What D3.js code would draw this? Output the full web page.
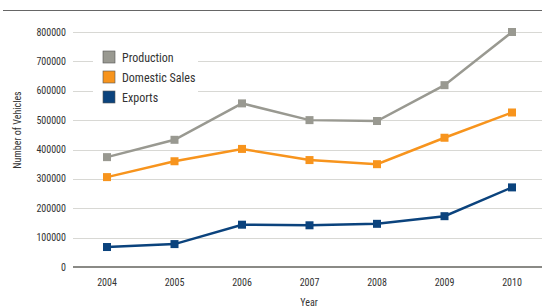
<!DOCTYPE html>
<html>
<head>
<meta charset="utf-8">
<script src="https://cdn.jsdelivr.net/npm/d3@7"></script>
<style>
  body { margin: 0; background: #fff; }
  svg { display: block; font-family: "Liberation Sans Narrow", "Roboto Condensed", "Liberation Sans", sans-serif; }
</style>
</head>
<body>
<svg width="542" height="307"></svg>
<script>
var years = ["2004", "2005", "2006", "2007", "2008", "2009", "2010"];
var production = [374000, 433000, 557000, 500000, 497000, 619000, 800000];
var domesticSales = [306000, 360000, 402000, 364000, 350000, 440000, 526000];
var exportsData = [68000, 78000, 144000, 142000, 147000, 173000, 271000];
var yTicks = [0, 100000, 200000, 300000, 400000, 500000, 600000, 700000, 800000];

var series = [
    { name: "Production", values: production, color: "#999991" },
    { name: "Domestic Sales", values: domesticSales, color: "#f7941d" },
    { name: "Exports", values: exportsData, color: "#0b437d" }
];

var svg = d3.select("svg"),
    width = +svg.attr("width"),
    height = +svg.attr("height");

var plotLeft = 73, plotRight = 542, plotTop = 32, plotBottom = 267;

var x = d3.scalePoint().domain(years).range([107, 512]);
var y = d3.scaleLinear().domain([0, 800000]).range([plotBottom, plotTop]);

// cut-off title and rule at the top
svg.append("text")
    .attr("x", 63).attr("y", -1)
    .attr("fill", "#fbd8a6")
    .style("font-size", "13px")
    .text("Motor Vehicle Production and Sales");

svg.append("line")
    .attr("x1", 3).attr("x2", width)
    .attr("y1", 10.5).attr("y2", 10.5)
    .attr("stroke", "#666").attr("stroke-width", 1.2);

// grid
svg.append("g")
    .selectAll("line")
    .data(yTicks.filter(function (d) { return d > 0; }))
    .enter().append("line")
    .attr("x1", plotLeft).attr("x2", plotRight)
    .attr("y1", function (d) { return Math.round(y(d)) + 0.5; })
    .attr("y2", function (d) { return Math.round(y(d)) + 0.5; })
    .attr("stroke", "#d8d8d4").attr("stroke-width", 1);

svg.append("line")
    .attr("x1", plotLeft).attr("x2", plotRight)
    .attr("y1", y(0)).attr("y2", y(0))
    .attr("stroke", "#8a8a86").attr("stroke-width", 2);

// y tick labels
svg.append("g")
    .selectAll("text")
    .data(yTicks)
    .enter().append("text")
    .attr("x", 66)
    .attr("y", function (d) { return y(d) + 3.5; })
    .attr("text-anchor", "end")
    .attr("fill", "#333")
    .style("font-size", "10px")
    .text(function (d) { return d; });

// x tick labels
svg.append("g")
    .selectAll("text")
    .data(years)
    .enter().append("text")
    .attr("x", function (d) { return x(d); })
    .attr("y", 286)
    .attr("text-anchor", "middle")
    .attr("fill", "#333")
    .style("font-size", "10px")
    .text(function (d) { return d; });

svg.append("text")
    .attr("x", 309).attr("y", 306)
    .attr("text-anchor", "middle")
    .attr("fill", "#333")
    .style("font-size", "10px")
    .text("Year");

svg.append("text")
    .attr("transform", "translate(21,130) rotate(-90)")
    .attr("text-anchor", "middle")
    .attr("fill", "#333")
    .style("font-size", "10px")
    .text("Number of Vehicles");

// lines
var line = d3.line()
    .x(function (d, i) { return x(years[i]); })
    .y(function (d) { return y(d); });

series.forEach(function (s) {
    svg.append("path")
        .datum(s.values)
        .attr("d", line)
        .attr("fill", "none")
        .attr("stroke", s.color)
        .attr("stroke-width", 2.5);

    svg.append("g")
        .selectAll("rect")
        .data(s.values)
        .enter().append("rect")
        .attr("x", function (d, i) { return x(years[i]) - 4; })
        .attr("y", function (d) { return y(d) - 4; })
        .attr("width", 8).attr("height", 8)
        .attr("fill", s.color);
});

// legend
var legend = svg.append("g");
legend.append("rect")
    .attr("x", 93).attr("y", 44)
    .attr("width", 105).attr("height", 62)
    .attr("fill", "#fff");

var item = legend.selectAll("g")
    .data(series)
    .enter().append("g")
    .attr("transform", function (d, i) { return "translate(103," + (51 + i * 20) + ")"; });

item.append("rect")
    .attr("width", 12).attr("height", 12)
    .attr("fill", function (d) { return d.color; })
    .attr("stroke", "#555").attr("stroke-width", 0.6);

item.append("text")
    .attr("x", 19).attr("y", 10.5)
    .attr("fill", "#333")
    .style("font-size", "12px")
    .text(function (d) { return d.name; });
</script>
</body>
</html>
